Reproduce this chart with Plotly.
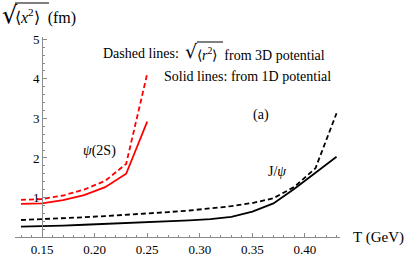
import plotly.graph_objects as go

# Data
T_psi2s = [0.13, 0.15, 0.17, 0.19, 0.21, 0.23, 0.25]
psi2s_1d = [0.84, 0.85, 0.93, 1.06, 1.26, 1.60, 2.92]
psi2s_3d = [0.94, 0.96, 1.05, 1.20, 1.42, 1.85, 4.13]

T_jpsi = [0.13, 0.15, 0.17, 0.19, 0.21, 0.23, 0.25, 0.27, 0.29, 0.31, 0.33, 0.35, 0.37, 0.39, 0.41, 0.43]
jpsi_1d = [0.26, 0.27, 0.29, 0.31, 0.33, 0.35, 0.37, 0.39, 0.42, 0.45, 0.51, 0.64, 0.85, 1.22, 1.62, 2.03]
jpsi_3d = [0.43, 0.45, 0.48, 0.50, 0.53, 0.56, 0.59, 0.63, 0.67, 0.72, 0.78, 0.86, 0.98, 1.27, 1.74, 3.13]

x_ticks = [0.15, 0.20, 0.25, 0.30, 0.35, 0.40]
x_ticktext = ["0.15", "0.20", "0.25", "0.30", "0.35", "0.40"]
y_ticks = [1, 2, 3, 4, 5]

FONT = "Liberation Serif"
AX = "#8a8a8a"
xr = [0.1243, 0.4333]
L, R, TOP, B = 15, 67, 37, 20
PW, PH = 407 - L - R, 257 - TOP - B


def px(x):
    return (x - L) / PW


def py(y):
    return (257 - B - y) / PH


fig = go.Figure()
fig.add_trace(go.Scatter(x=T_psi2s, y=psi2s_1d, mode="lines",
                         line=dict(color="#ff0000", width=1.8)))
fig.add_trace(go.Scatter(x=T_psi2s, y=psi2s_3d, mode="lines",
                         line=dict(color="#ff0000", width=1.8, dash="5px,3px")))
fig.add_trace(go.Scatter(x=T_jpsi, y=jpsi_1d, mode="lines",
                         line=dict(color="#000000", width=1.8)))
fig.add_trace(go.Scatter(x=T_jpsi, y=jpsi_3d, mode="lines",
                         line=dict(color="#000000", width=1.8, dash="5px,3px")))

fig.update_layout(
    width=407, height=257,
    margin=dict(l=L, r=R, t=TOP, b=B),
    plot_bgcolor="white", paper_bgcolor="white",
    showlegend=False,
    font=dict(family=FONT, color="black", size=13),
    xaxis=dict(range=xr, showgrid=False, zeroline=False, showline=True, automargin=False,
               linecolor=AX, linewidth=1, ticks="inside", ticklen=4, tickcolor=AX,
               tickvals=x_ticks, ticktext=x_ticktext, ticklabelstandoff=0,
               minor=dict(dtick=0.01, tick0=0.15, ticks="inside", ticklen=2, tickcolor=AX),
               tickfont=dict(family=FONT, size=13)),
    yaxis=dict(range=[0, 5.06], showgrid=False, zeroline=False, showline=True, automargin=False,
               linecolor=AX, linewidth=1, ticks="inside", ticklen=4, tickcolor=AX,
               tickvals=y_ticks, anchor="free",
               position=(0.15 - xr[0]) / (xr[1] - xr[0]),
               minor=dict(dtick=0.2, tick0=0, ticks="inside", ticklen=2, tickcolor=AX),
               tickfont=dict(family=FONT, size=13)),
)

# y-axis title: radical + bracket + overline
fig.add_annotation(text="√", xref="paper", yref="paper", x=px(0), y=py(15),
                   xanchor="left", yanchor="middle", showarrow=False,
                   font=dict(family="DejaVu Serif", size=24))
fig.add_annotation(text="⟨<i>x</i><sup>2</sup>⟩  (fm)", xref="paper", yref="paper",
                   x=px(13), y=py(17), xanchor="left", yanchor="middle", showarrow=False,
                   font=dict(family=FONT, size=16))
fig.add_shape(type="line", xref="paper", yref="paper", x0=px(15), x1=px(49),
              y0=py(3), y1=py(3), line=dict(color="black", width=1))

fig.add_annotation(text="T (GeV)", xref="paper", yref="paper", x=px(351), y=py(237),
                   xanchor="left", yanchor="middle", showarrow=False,
                   font=dict(family=FONT, size=15))

# legend-like texts
fig.add_annotation(text="Dashed lines: ", xref="paper", yref="paper",
                   x=px(101), y=py(54), xanchor="left", yanchor="middle", showarrow=False,
                   font=dict(family=FONT, size=14))
fig.add_annotation(text="√", xref="paper", yref="paper",
                   x=px(183), y=py(51), xanchor="left", yanchor="middle", showarrow=False,
                   font=dict(family="DejaVu Serif", size=19))
fig.add_annotation(text="⟨<i>r</i><sup>2</sup>⟩  from 3D potential", xref="paper", yref="paper",
                   x=px(195), y=py(54), xanchor="left", yanchor="middle", showarrow=False,
                   font=dict(family=FONT, size=14))
fig.add_shape(type="line", xref="paper", yref="paper", x0=px(197), x1=px(223),
              y0=py(42), y1=py(42), line=dict(color="black", width=1))

fig.add_annotation(text="Solid lines: from 1D potential",
                   xref="paper", yref="paper", x=px(162), y=py(76),
                   xanchor="left", yanchor="middle", showarrow=False,
                   font=dict(family=FONT, size=14))
fig.add_annotation(text="<i>ψ</i>(2S)", xref="paper", yref="paper",
                   x=px(81), y=py(151),
                   xanchor="left", yanchor="middle", showarrow=False,
                   font=dict(family=FONT, size=14))
fig.add_annotation(text="J/<i>ψ</i>", xref="paper", yref="paper",
                   x=px(266), y=py(171),
                   xanchor="left", yanchor="middle", showarrow=False,
                   font=dict(family=FONT, size=14))
fig.add_annotation(text="(a)", xref="paper", yref="paper",
                   x=px(251), y=py(115),
                   xanchor="left", yanchor="middle", showarrow=False,
                   font=dict(family=FONT, size=14))

fig.write_html("out.html", config={"displayModeBar": False},
               post_script="document.body.style.margin='0px';document.body.style.overflow='hidden';")
